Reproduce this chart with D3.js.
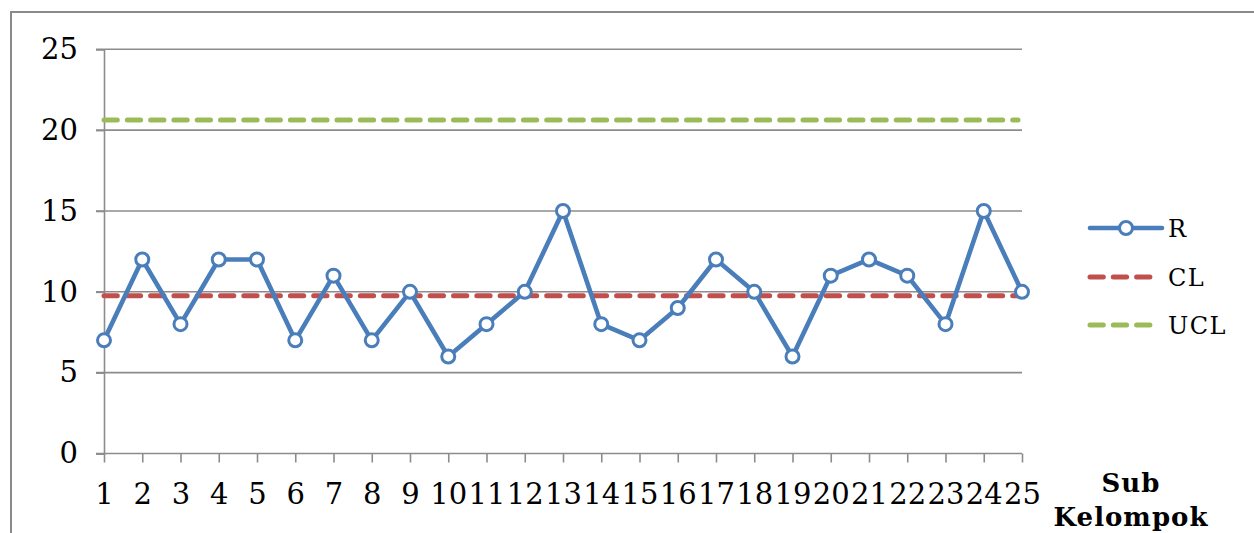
<!DOCTYPE html>
<html><head><meta charset="utf-8">
<script src="https://cdn.jsdelivr.net/npm/d3@7"></script>
<style>body{margin:0;background:#fff}svg{display:block}</style>
</head><body>
<svg id="chart" width="1254" height="533"></svg>
<script>
const categories = ["1","2","3","4","5","6","7","8","9","10","11","12","13","14","15","16","17","18","19","20","21","22","23","24","25"];
const rValues = [7,12,8,12,12,7,11,7,10,6,8,10,15,8,7,9,12,10,6,11,12,11,8,15,10];
const clValue = 9.76;
const uclValue = 20.62;
const yTicks = [0,5,10,15,20,25];
const seriesNames = ["R","CL","UCL"];
const colors = {R:"#4a7ebb", CL:"#c0504d", UCL:"#9bbb59"};

const svg = d3.select("#chart");
const FONT = "'DejaVu Serif', serif";
const gridColor = "#8c8c8c";

// outer frame (partially visible)
svg.append("path").attr("d","M11,540 L11,12 L1260,12")
  .attr("fill","none").attr("stroke","#8a8a8a").attr("stroke-width",2);

const x = d3.scalePoint().domain(categories).range([104, 1022]).padding(0);
const y = d3.scaleLinear().domain([0,25]).range([453.5, 49.3]);

// gridlines
svg.append("g").selectAll("line").data(yTicks.filter(d=>d>0)).join("line")
  .attr("x1",96).attr("x2",1022)
  .attr("y1",d=>y(d)).attr("y2",d=>y(d))
  .attr("stroke",gridColor).attr("stroke-width",1.6);

// y axis
const yAxis = svg.append("g").attr("transform","translate(104,0)")
  .call(d3.axisLeft(y).tickValues(yTicks).tickSize(8).tickPadding(18));
yAxis.select(".domain").attr("stroke",gridColor).attr("stroke-width",1.6);
yAxis.selectAll(".tick line").attr("stroke",gridColor).attr("stroke-width",1.6);
yAxis.selectAll(".tick text").attr("font-family",FONT).attr("font-size",29).attr("fill","#000");

// x axis
const xAxis = svg.append("g").attr("transform","translate(0,453.5)")
  .call(d3.axisBottom(x).tickSize(9).tickPadding(21).tickSizeOuter(0));
xAxis.select(".domain").attr("stroke",gridColor).attr("stroke-width",1.6).attr("d","M96,0H1022");
xAxis.selectAll(".tick line").attr("stroke",gridColor).attr("stroke-width",1.6);
xAxis.selectAll(".tick text").attr("font-family",FONT).attr("font-size",29).attr("fill","#000");

// CL and UCL
const dash = "13.3,10";
function hline(val, color){
  svg.append("line").attr("x1",x(categories[0])).attr("x2",x(categories[categories.length-1])-4)
    .attr("y1",y(val)).attr("y2",y(val))
    .attr("stroke",color).attr("stroke-width",5).attr("stroke-dasharray",dash).attr("stroke-linecap","round");
}
hline(uclValue, colors.UCL);
hline(clValue, colors.CL);

// R series
const line = d3.line().x((d,i)=>x(categories[i])).y(d=>y(d));
svg.append("path").datum(rValues).attr("d",line)
  .attr("fill","none").attr("stroke",colors.R).attr("stroke-width",4.6).attr("stroke-linejoin","round");
svg.append("g").selectAll("circle").data(rValues).join("circle")
  .attr("cx",(d,i)=>x(categories[i])).attr("cy",d=>y(d)).attr("r",6.5)
  .attr("fill","#fff").attr("stroke",colors.R).attr("stroke-width",3);

// legend
const lg = svg.append("g");
const legY = [228, 277, 325];
seriesNames.forEach((name,i)=>{
  const yy = legY[i];
  if(name==="R"){
    lg.append("line").attr("x1",1090).attr("x2",1162).attr("y1",yy).attr("y2",yy)
      .attr("stroke",colors.R).attr("stroke-width",4.6).attr("stroke-linecap","round");
    lg.append("circle").attr("cx",1126).attr("cy",yy).attr("r",6.5)
      .attr("fill","#fff").attr("stroke",colors.R).attr("stroke-width",3);
  } else {
    lg.append("line").attr("x1",1090).attr("x2",1151).attr("y1",yy).attr("y2",yy)
      .attr("stroke",colors[name]).attr("stroke-width",5).attr("stroke-dasharray",dash).attr("stroke-linecap","round");
  }
  lg.append("text").attr("x",1168).attr("y",yy+9).text(name)
    .attr("font-family",FONT).attr("font-size",24).attr("letter-spacing",1.5).attr("fill","#000");
});

// x axis title
const t = svg.append("text").attr("text-anchor","middle")
  .attr("font-family",FONT).attr("font-size",26).attr("font-weight","bold").attr("letter-spacing",1).attr("fill","#000");
t.append("tspan").attr("x",1131).attr("y",492).text("Sub");
t.append("tspan").attr("x",1131).attr("y",526).text("Kelompok");
</script>
</body></html>
